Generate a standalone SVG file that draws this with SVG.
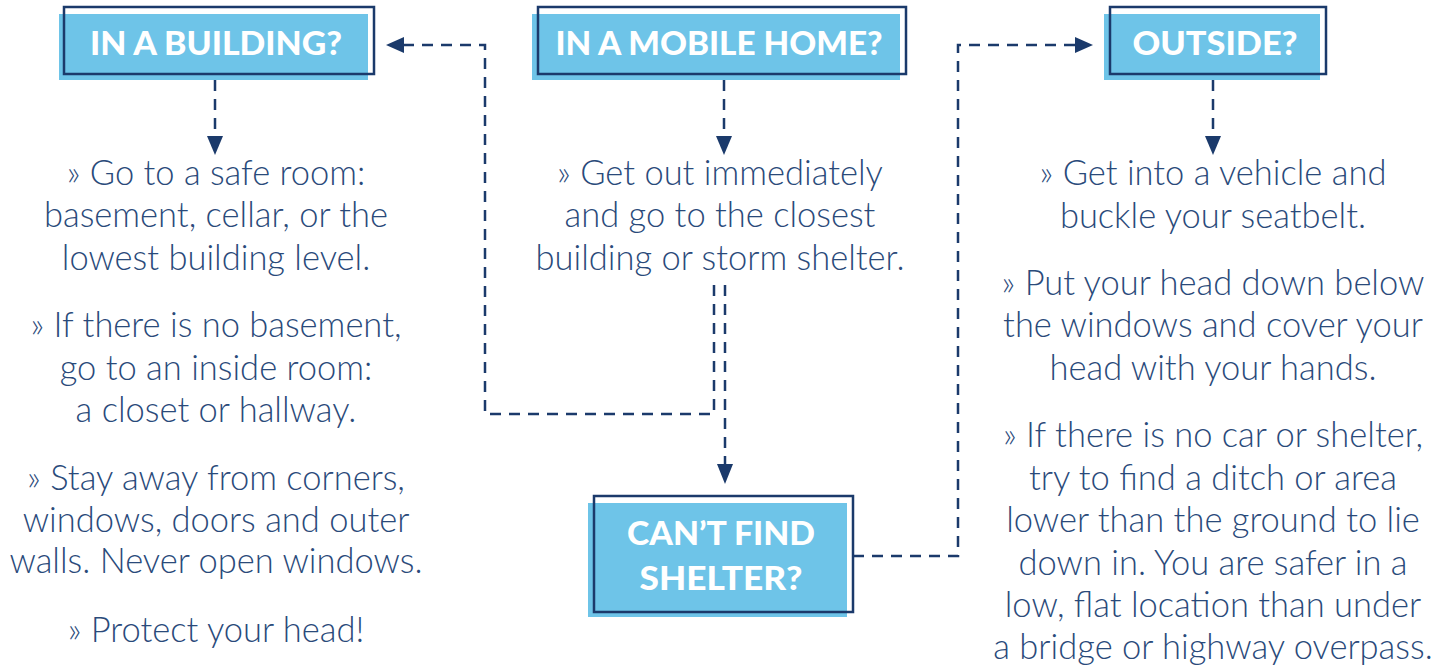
<svg xmlns="http://www.w3.org/2000/svg" width="1453" height="670" viewBox="0 0 1453 670">
<defs>
<style>
.fill{fill:#6ec4e8}
.out{fill:none;stroke:#1b3a6b;stroke-width:2.5}
.hd{font-family:Lato,"Liberation Sans",sans-serif;font-weight:900;font-size:32px;fill:#ffffff;text-anchor:middle}
.bd{font-family:Lato,"Liberation Sans",sans-serif;font-weight:300;font-size:34.5px;fill:#2a4a7a;text-anchor:middle}
.ln{fill:none;stroke:#1b3a6b;stroke-width:2.5;stroke-dasharray:11 8}
.ah{fill:#1b3a6b}
</style>
</defs>
<rect width="1453" height="670" fill="#ffffff"/>
<g id="connectors">
<path class="ln" d="M215 80 V136"/>
<polygon class="ah" points="207,136 223,136 215,155"/>
<path class="ln" d="M724 80 V136"/>
<polygon class="ah" points="716,136 732,136 724,155"/>
<path class="ln" d="M1213 80 V136"/>
<polygon class="ah" points="1205,136 1221,136 1213,155"/>
<path class="ln" d="M714 285 V414 H485 V45 H404"/>
<polygon class="ah" points="404,37 404,53 386,45"/>
<path class="ln" d="M725 285 V464"/>
<polygon class="ah" points="717,464 733,464 725,484"/>
<path class="ln" d="M853 556 H958 V45 H1075"/>
<polygon class="ah" points="1075,37 1075,53 1093,45"/>
</g>
<g id="node-building">
<rect class="fill" x="59" y="14" width="309" height="66"/>
<rect class="out" x="64" y="7" width="310" height="67"/>
<text class="hd" x="216" y="55" textLength="252" lengthAdjust="spacingAndGlyphs">IN A BUILDING?</text>
</g>
<g id="node-mobile">
<rect class="fill" x="532" y="14" width="368" height="66"/>
<rect class="out" x="538" y="7" width="368" height="67"/>
<text class="hd" x="719" y="55" textLength="327" lengthAdjust="spacingAndGlyphs">IN A MOBILE HOME?</text>
</g>
<g id="node-outside">
<rect class="fill" x="1104" y="14" width="216" height="66"/>
<rect class="out" x="1110" y="7" width="216" height="67"/>
<text class="hd" x="1215" y="55" textLength="165" lengthAdjust="spacingAndGlyphs">OUTSIDE?</text>
</g>
<g id="node-cantfind">
<rect class="fill" x="588" y="503" width="259" height="114"/>
<rect class="out" x="594" y="496" width="259" height="116"/>
<text class="hd" x="721" y="545" textLength="188" lengthAdjust="spacingAndGlyphs">CAN’T FIND</text>
<text class="hd" x="721" y="590" textLength="163" lengthAdjust="spacingAndGlyphs">SHELTER?</text>
</g>
<g id="text-building">
<text class="bd" x="216" y="185">» Go to a safe room:</text>
<text class="bd" x="216" y="227">basement, cellar, or the</text>
<text class="bd" x="216" y="270">lowest building level.</text>
<text class="bd" x="216" y="337">» If there is no basement,</text>
<text class="bd" x="216" y="380">go to an inside room:</text>
<text class="bd" x="216" y="422">a closet or hallway.</text>
<text class="bd" x="216" y="490">» Stay away from corners,</text>
<text class="bd" x="216" y="532">windows, doors and outer</text>
<text class="bd" x="216" y="573">walls. Never open windows.</text>
<text class="bd" x="216" y="642">» Protect your head!</text>
</g>
<g id="text-mobile">
<text class="bd" x="720" y="185">» Get out immediately</text>
<text class="bd" x="720" y="227">and go to the closest</text>
<text class="bd" x="720" y="270">building or storm shelter.</text>
</g>
<g id="text-outside">
<text class="bd" x="1213" y="185">» Get into a vehicle and</text>
<text class="bd" x="1213" y="228">buckle your seatbelt.</text>
<text class="bd" x="1213" y="295">» Put your head down below</text>
<text class="bd" x="1213" y="337">the windows and cover your</text>
<text class="bd" x="1213" y="380">head with your hands.</text>
<text class="bd" x="1213" y="447">» If there is no car or shelter,</text>
<text class="bd" x="1213" y="490">try to find a ditch or area</text>
<text class="bd" x="1213" y="532">lower than the ground to lie</text>
<text class="bd" x="1213" y="575">down in. You are safer in a</text>
<text class="bd" x="1213" y="617">low, flat location than under</text>
<text class="bd" x="1213" y="659">a bridge or highway overpass.</text>
</g>
</svg>
